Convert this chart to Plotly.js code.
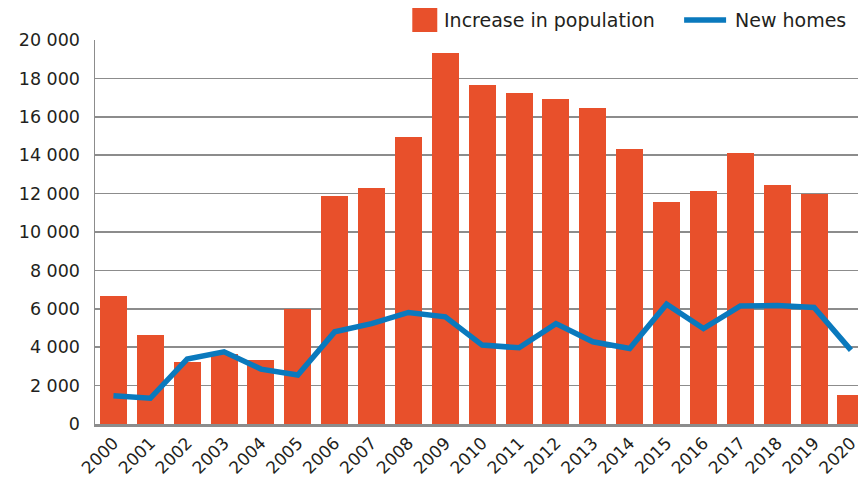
<!DOCTYPE html>
<html>
<head>
<meta charset="utf-8">
<script src="https://cdn.plot.ly/plotly-3.0.1.min.js"></script>
<style>html,body{margin:0;padding:0;background:#fff}#chart{width:858px;height:479px}</style>
</head>
<body>
<div id="chart"></div>
<script>
var years = ['2000','2001','2002','2003','2004','2005','2006','2007','2008','2009','2010','2011','2012','2013','2014','2015','2016','2017','2018','2019','2020'];
var populationIncrease = [6650,4630,3240,3640,3330,6000,11850,12270,14970,19340,17680,17260,16950,16480,14300,11540,12110,14140,12430,11990,1500];
var newHomes = [1470,1340,3380,3760,2860,2550,4800,5230,5810,5580,4110,3970,5230,4280,3930,6240,4970,6150,6170,6070,3850];
var yTickValues = [0,2000,4000,6000,8000,10000,12000,14000,16000,18000,20000];
var yTickLabels = ['0','2 000','4 000','6 000','8 000','10 000','12 000','14 000','16 000','18 000','20 000'];
var seriesNames = ['Increase in population','New homes'];

var W = 858, H = 479;
var M = {l: 94.5, r: 0, t: 40, b: 55};
var PW = W - M.l - M.r, PH = H - M.t - M.b;
function px(x){ return (x - M.l) / PW; }
function py(y){ return (H - M.b - y) / PH; }

var idx = years.map(function(_, i){ return i; });
var gaps = years.slice(1).map(function(_, i){ return i + 0.5; });

var textColor = '#231f20';
var gridColor = '#8c8c8c';
var barColor = '#e8502b';
var lineColor = '#0a79bd';
var fontFamily = '"DejaVu Sans", Lato, sans-serif';

var traces = [
  {type:'bar', x: idx, y: populationIncrease, name: seriesNames[0], marker:{color: barColor}, width: 0.73, showlegend:false, hoverinfo:'skip'},
  {type:'scatter', mode:'lines', x: idx, y: newHomes, name: seriesNames[1], line:{color: lineColor, width: 5.5}, showlegend:false, hoverinfo:'skip'}
];

var layout = {
  width: W, height: H,
  margin: M,
  paper_bgcolor:'#fff', plot_bgcolor:'#fff',
  font:{family: fontFamily, color: textColor, size: 17},
  showlegend:false,
  bargap: 0,
  xaxis:{
    range:[-0.5, -0.5 + PW/36.9], tickmode:'array', tickvals: idx, ticktext: years,
    tickangle:-45, ticks:'', showgrid:false, zeroline:false,
    showline:true, linecolor: gridColor, linewidth: 2.5,
    ticklabeloverflow:'allow',
    tickfont:{size:17, family: fontFamily, color: textColor}, fixedrange:true
  },
  xaxis2:{
    overlaying:'x', anchor:'y', side:'bottom',
    range:[-0.5, -0.5 + PW/36.9], tickmode:'array', tickvals: gaps,
    ticks:'inside', ticklen:10, tickwidth:1.5, tickcolor: gridColor,
    showticklabels:false, showgrid:false, zeroline:false, showline:false
  },
  yaxis:{
    range:[0, 20000], tickmode:'array', tickvals: yTickValues, ticktext: yTickLabels,
    showgrid:true, gridcolor: gridColor, gridwidth:1.5, zeroline:false,
    showline:true, linecolor: gridColor, linewidth:1.5, ticks:'',
    ticklabelstandoff: 10,
    tickfont:{size:17.5, family: fontFamily, color: textColor}, fixedrange:true
  },
  shapes:[
    {type:'rect', xref:'paper', yref:'paper', x0: px(412), x1: px(437), y0: py(32), y1: py(8), fillcolor: barColor, line:{width:0}},
    {type:'line', xref:'paper', yref:'paper', x0: px(684), x1: px(726), y0: py(20), y1: py(20), line:{color: lineColor, width:5.5}}
  ],
  annotations:[
    {xref:'paper', yref:'paper', x: px(442), y: py(20), xanchor:'left', yanchor:'middle', text: seriesNames[0], showarrow:false, font:{size:19, family: fontFamily, color: textColor}},
    {xref:'paper', yref:'paper', x: px(733), y: py(20), xanchor:'left', yanchor:'middle', text: seriesNames[1], showarrow:false, font:{size:19, family: fontFamily, color: textColor}}
  ]
};

Plotly.newPlot('chart', traces, layout, {displayModeBar:false, staticPlot:true});
</script>
</body>
</html>
